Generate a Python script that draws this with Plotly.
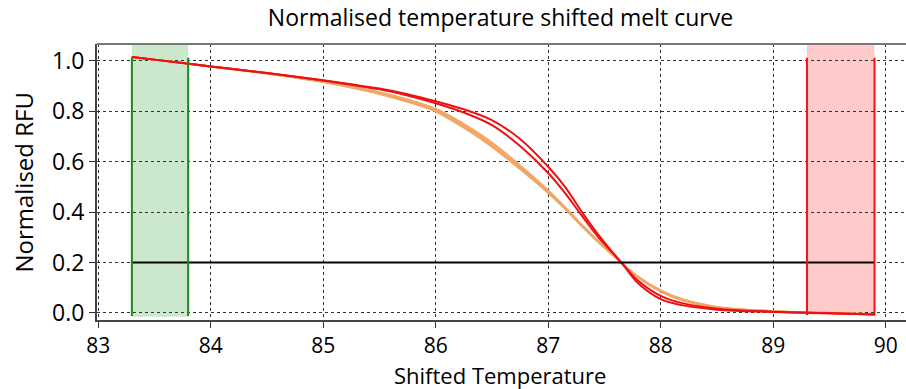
import plotly.graph_objects as go

# ---- data ----
temps = [83.3, 83.5, 84.0, 84.5, 85.0, 85.25, 85.5, 85.75, 86.0, 86.25, 86.5, 86.75,
         87.0, 87.15, 87.3, 87.45, 87.65, 87.8, 88.0, 88.2, 88.5, 89.0, 89.5, 89.9]

orange_1 = [1.015, 1.005, 0.978, 0.951, 0.918, 0.897, 0.873, 0.843, 0.805, 0.742, 0.668, 0.578,
            0.481, 0.417, 0.347, 0.281, 0.200, 0.142, 0.087, 0.051, 0.023, 0.007, 0.000, -0.005]
orange_2 = [1.015, 1.005, 0.978, 0.950, 0.916, 0.894, 0.869, 0.838, 0.799, 0.735, 0.660, 0.571,
            0.476, 0.413, 0.344, 0.279, 0.200, 0.143, 0.089, 0.053, 0.024, 0.007, 0.000, -0.005]
orange_3 = [1.015, 1.005, 0.978, 0.951, 0.919, 0.899, 0.876, 0.847, 0.810, 0.749, 0.676, 0.585,
            0.486, 0.420, 0.349, 0.282, 0.200, 0.141, 0.085, 0.049, 0.022, 0.006, 0.000, -0.005]
orange_4 = [1.015, 1.005, 0.978, 0.950, 0.917, 0.895, 0.871, 0.840, 0.802, 0.739, 0.664, 0.574,
            0.478, 0.415, 0.345, 0.280, 0.200, 0.142, 0.088, 0.052, 0.023, 0.007, 0.000, -0.005]
red_1 = [1.015, 1.005, 0.978, 0.952, 0.923, 0.907, 0.890, 0.868, 0.840, 0.808, 0.765, 0.690,
         0.580, 0.500, 0.400, 0.308, 0.200, 0.128, 0.068, 0.038, 0.017, 0.005, -0.001, -0.006]
red_2 = [1.015, 1.005, 0.978, 0.952, 0.922, 0.905, 0.887, 0.863, 0.832, 0.795, 0.745, 0.662,
         0.555, 0.475, 0.385, 0.298, 0.200, 0.118, 0.055, 0.030, 0.013, 0.004, -0.001, -0.006]

orange_series = [orange_1, orange_2, orange_3, orange_4]
red_series = [red_1, red_2]

green_region = [83.3, 83.8]
red_region = [89.3, 89.9]
threshold = 0.2

x_ticks = [83, 84, 85, 86, 87, 88, 89, 90]
y_ticks = [0.0, 0.2, 0.4, 0.6, 0.8, 1.0]

FONT = "Open Sans"

fig = go.Figure()

for s in orange_series:
    fig.add_trace(go.Scatter(x=temps, y=s, mode="lines", line=dict(color="#f2a766", width=2, shape="spline"),
                             showlegend=False, hoverinfo="skip"))
for s in red_series:
    fig.add_trace(go.Scatter(x=temps, y=s, mode="lines", line=dict(color="#ee1111", width=2, shape="spline"),
                             showlegend=False, hoverinfo="skip"))

# threshold line
fig.add_trace(go.Scatter(x=[green_region[0], red_region[1]], y=[threshold, threshold], mode="lines",
                         line=dict(color="black", width=2), showlegend=False, hoverinfo="skip"))

# regions
fig.add_shape(type="rect", xref="x", yref="paper", x0=green_region[0], x1=green_region[1], y0=0.012, y1=1,
              fillcolor="rgba(0,140,0,0.2)", line_width=0, layer="below")
fig.add_shape(type="rect", xref="x", yref="paper", x0=red_region[0], x1=red_region[1], y0=0.02, y1=1,
              fillcolor="rgba(255,60,60,0.27)", line_width=0, layer="below")
for xv in green_region:
    fig.add_shape(type="line", xref="x", yref="y", x0=xv, x1=xv, y0=-0.012, y1=1.012,
                  line=dict(color="#1a8a1a", width=2))
for xv in red_region:
    fig.add_shape(type="line", xref="x", yref="y", x0=xv, x1=xv, y0=-0.008, y1=1.012,
                  line=dict(color="#ff1010", width=2))

# top border
fig.add_shape(type="line", xref="paper", yref="paper", x0=0, x1=1, y0=1, y1=1,
              line=dict(color="#777777", width=2))

# axis titles as annotations for precise placement
fig.add_annotation(text="Shifted Temperature", xref="paper", yref="paper", x=0.498, y=-0.2,
                   xanchor="center", yanchor="middle", showarrow=False,
                   font=dict(family=FONT, size=22, color="black"))
fig.add_annotation(text="Normalised RFU", xref="paper", yref="paper", x=-0.092, y=0.5,
                   xanchor="center", yanchor="middle", showarrow=False, textangle=-90,
                   font=dict(family=FONT, size=24, color="black"))

fig.update_layout(
    width=906, height=389,
    margin=dict(l=97, r=0, t=44, b=69),
    paper_bgcolor="white", plot_bgcolor="white",
    title=dict(text="Normalised temperature shifted melt curve", x=0.5524, xanchor="center",
               y=0.955, yanchor="middle",
               font=dict(family=FONT, size=23, color="black")),
    font=dict(family=FONT, color="black"),
)
fig.update_xaxes(range=[82.99, 90.18], tickvals=x_ticks, ticktext=[str(v) for v in x_ticks],
                 showgrid=True, gridcolor="#333333", griddash="dot", gridwidth=1,
                 showline=True, linecolor="#444444", linewidth=2,
                 ticks="outside", ticklen=6, tickcolor="#333333",
                 tickfont=dict(size=21, family=FONT), automargin=False,
                 zeroline=False)
fig.update_yaxes(range=[-0.028, 1.067], tickvals=y_ticks, ticktext=[f"{v:.1f}" for v in y_ticks],
                 showgrid=True, gridcolor="#333333", griddash="dot", gridwidth=1,
                 showline=True, linecolor="#444444", linewidth=2,
                 ticks="outside", ticklen=6, tickcolor="#333333",
                 tickfont=dict(size=23, family=FONT), automargin=False,
                 zeroline=False)

fig.write_html("out.html", config={"displayModeBar": False},
               post_script="document.body.style.margin='0';")
